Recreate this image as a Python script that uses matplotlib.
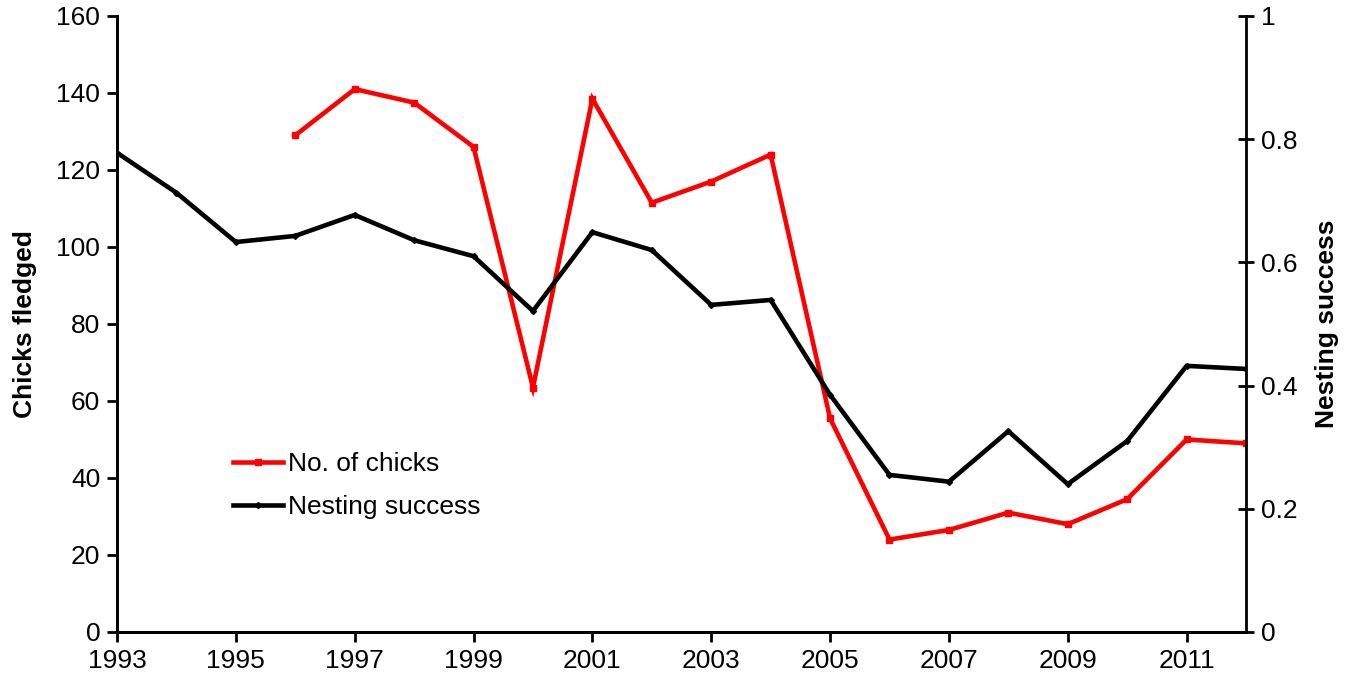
import matplotlib
matplotlib.use('Agg')
import matplotlib.pyplot as plt

plt.rcParams['font.family'] = ['Liberation Sans', 'DejaVu Sans']

years_chicks = [1996, 1997, 1998, 1999, 2000, 2001, 2002, 2003, 2004, 2005,
                2006, 2007, 2008, 2009, 2010, 2011, 2012]
chicks = [129, 141, 137.5, 126, 63.5, 138.5, 111.5, 117, 124, 55.5,
          24, 26.5, 31, 28, 34.5, 50, 49]

years_nest = list(range(1993, 2013))
nest = [0.778, 0.713, 0.633, 0.643, 0.677, 0.636, 0.610, 0.521, 0.649, 0.620,
        0.531, 0.539, 0.385, 0.255, 0.244, 0.326, 0.240, 0.310, 0.432, 0.427]

xticks = list(range(1993, 2013, 2))

fig = plt.figure(figsize=(13.51, 6.83), dpi=100)
ax = fig.add_axes([0.0866, 0.0747, 0.8357, 0.9019])
ax2 = ax.twinx()

l1, = ax.plot(years_chicks, chicks, color='#ff0000', lw=3.3, marker='s', ms=4,
              label='No. of chicks', solid_joinstyle='miter')
l2, = ax2.plot(years_nest, nest, color='black', lw=3.3, marker='D', ms=3,
               label='Nesting success', solid_joinstyle='miter')

ax.set_xlim(1993, 2012)
ax.set_ylim(0, 160)
ax.set_yticks(range(0, 161, 20))
ax2.set_ylim(0, 1)
ax2.set_yticks([0, 0.2, 0.4, 0.6, 0.8, 1])
ax2.set_yticklabels(['0', '0.2', '0.4', '0.6', '0.8', '1'])
ax.set_xticks(xticks)

for a in (ax, ax2):
    a.spines['top'].set_visible(False)
    for s in a.spines.values():
        s.set_linewidth(2)
ax.spines['right'].set_visible(False)

ax.tick_params(axis='both', labelsize=19, width=2, length=7, direction='out', pad=5)
ax2.tick_params(axis='y', labelsize=19, width=2, length=12, direction='inout', pad=5)

ax.set_ylabel('Chicks fledged', fontsize=19, fontweight='bold', labelpad=14)
ax2.set_ylabel('Nesting success', fontsize=19, fontweight='bold', labelpad=12)

leg = ax2.legend(handles=[l1, l2], loc='upper left', bbox_to_anchor=(0.0815, 0.33),
                 frameon=False, fontsize=19, handlelength=1.9, handletextpad=0.2,
                 labelspacing=0.7)

plt.savefig('out.png', dpi=100)
